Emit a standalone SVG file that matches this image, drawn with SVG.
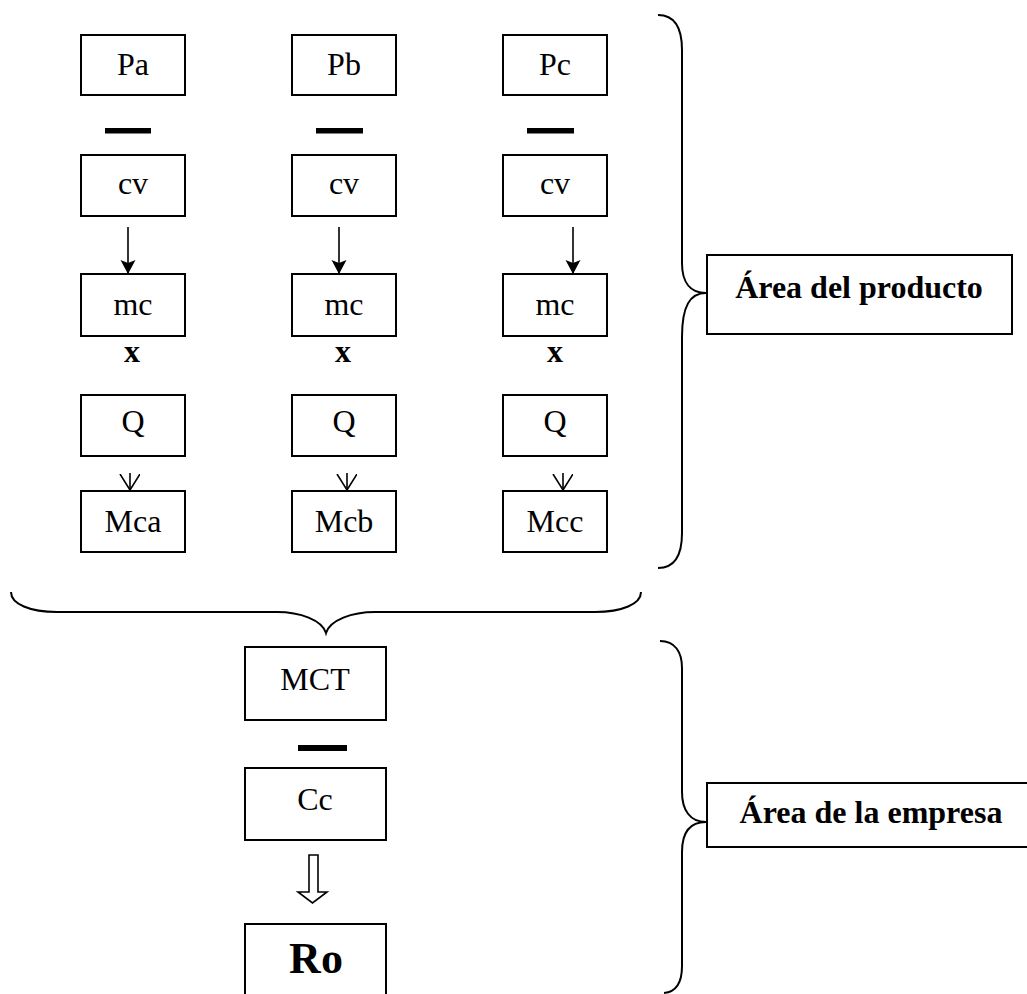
<svg xmlns="http://www.w3.org/2000/svg" width="1027" height="994" viewBox="0 0 1027 994">
<style>
.box{fill:#fff;stroke:#000;stroke-width:2}
.t{font-family:"Liberation Serif","Times New Roman",serif;font-size:32px;text-anchor:middle;fill:#000}
.b{font-family:"Liberation Serif","Times New Roman",serif;font-weight:bold;font-size:32px;text-anchor:middle;fill:#000}
.bar{fill:#000}
.brace{fill:none;stroke:#000;stroke-width:2}
.arr{stroke:#000;stroke-width:1.6;fill:none}
</style>
<defs>
<marker id="ah" markerWidth="16" markerHeight="16" refX="14" refY="7.5" orient="auto" markerUnits="userSpaceOnUse">
<path d="M0,0 L14,7.5 L0,15 L3,7.5 z" fill="#000"/>
</marker>
<marker id="av" markerWidth="18" markerHeight="22" refX="16" refY="10" orient="auto" markerUnits="userSpaceOnUse">
<path d="M0,0 L16,10 L0,20" fill="none" stroke="#000" stroke-width="1.6"/>
</marker>
</defs>
<rect width="1027" height="994" fill="#fff"/>

<g id="connectors">
<line class="arr" x1="128" y1="227" x2="128" y2="274" marker-end="url(#ah)"/>
<line class="arr" x1="339" y1="227" x2="339" y2="274" marker-end="url(#ah)"/>
<line class="arr" x1="573" y1="227" x2="573" y2="274" marker-end="url(#ah)"/>
<line class="arr" x1="130" y1="473" x2="130" y2="490" marker-end="url(#av)"/>
<line class="arr" x1="347" y1="473" x2="347" y2="490" marker-end="url(#av)"/>
<line class="arr" x1="563" y1="473" x2="563" y2="490" marker-end="url(#av)"/>
<path class="arr" d="M309,855 H318 V892 H327 L312.5,903 L298,892 H309 Z"/>
</g>

<g id="operators">
<rect class="bar" x="105" y="128" width="46" height="5.5"/>
<rect class="bar" x="316" y="128" width="47" height="5.5"/>
<rect class="bar" x="527" y="128" width="47" height="5.5"/>
<rect class="bar" x="298" y="745" width="49" height="6"/>
<text class="b" x="132" y="362">x</text>
<text class="b" x="343" y="362">x</text>
<text class="b" x="555" y="362">x</text>
</g>

<g id="braces">
<path class="brace" d="M658,15 C674,15 682,27 682,50 V263 C682,282 690,293 706,293 C690,293 682,306 682,337 V533 C682,556 674,568 658,568"/>
<path class="brace" d="M11,592 C11,604 30,612 57,612 H277 C300,612 322,620 326,633 C330,620 352,612 375,612 H595 C622,612 641,604 641,592"/>
<path class="brace" d="M660,641 C675,641 682,652 682,668 V792 C682,810 690,822 706,822 C690,822 682,832 682,852 V966 C682,982 676,992 664,993"/>
</g>

<g id="node-pa"><rect class="box" x="81" y="35" width="104" height="60"/><text class="t" x="133" y="75">Pa</text></g>
<g id="node-pb"><rect class="box" x="292" y="35" width="104" height="60"/><text class="t" x="344" y="75">Pb</text></g>
<g id="node-pc"><rect class="box" x="503" y="35" width="104" height="60"/><text class="t" x="555" y="75">Pc</text></g>

<g id="node-cva"><rect class="box" x="81" y="155" width="104" height="61"/><text class="t" x="133" y="194">cv</text></g>
<g id="node-cvb"><rect class="box" x="292" y="155" width="104" height="61"/><text class="t" x="344" y="194">cv</text></g>
<g id="node-cvc"><rect class="box" x="503" y="155" width="104" height="61"/><text class="t" x="555" y="194">cv</text></g>

<g id="node-mca"><rect class="box" x="81" y="274" width="104" height="62"/><text class="t" x="133" y="315">mc</text></g>
<g id="node-mcb"><rect class="box" x="292" y="274" width="104" height="62"/><text class="t" x="344" y="315">mc</text></g>
<g id="node-mcc"><rect class="box" x="503" y="274" width="104" height="62"/><text class="t" x="555" y="315">mc</text></g>

<g id="node-qa"><rect class="box" x="81" y="395" width="104" height="61"/><text class="t" x="133" y="432">Q</text></g>
<g id="node-qb"><rect class="box" x="292" y="395" width="104" height="61"/><text class="t" x="344" y="432">Q</text></g>
<g id="node-qc"><rect class="box" x="503" y="395" width="104" height="61"/><text class="t" x="555" y="432">Q</text></g>

<g id="node-Mca"><rect class="box" x="81" y="491" width="104" height="61"/><text class="t" x="133" y="532">Mca</text></g>
<g id="node-Mcb"><rect class="box" x="292" y="491" width="104" height="61"/><text class="t" x="344" y="532">Mcb</text></g>
<g id="node-Mcc"><rect class="box" x="503" y="491" width="104" height="61"/><text class="t" x="555" y="532">Mcc</text></g>

<g id="node-area-producto"><rect class="box" x="707" y="255" width="305" height="79"/><text class="b" x="859" y="298">Área del producto</text></g>

<g id="node-mct"><rect class="box" x="245" y="647" width="141" height="73"/><text class="t" x="315" y="690">MCT</text></g>
<g id="node-cc"><rect class="box" x="245" y="768" width="141" height="72"/><text class="t" x="315" y="810">Cc</text></g>
<g id="node-ro"><rect class="box" x="245" y="924" width="141" height="90"/><text class="b" x="316" y="973" style="font-size:44px">Ro</text></g>

<g id="node-area-empresa"><rect class="box" x="707" y="783" width="340" height="64"/><text class="b" x="871" y="823">Área de la empresa</text></g>
</svg>
